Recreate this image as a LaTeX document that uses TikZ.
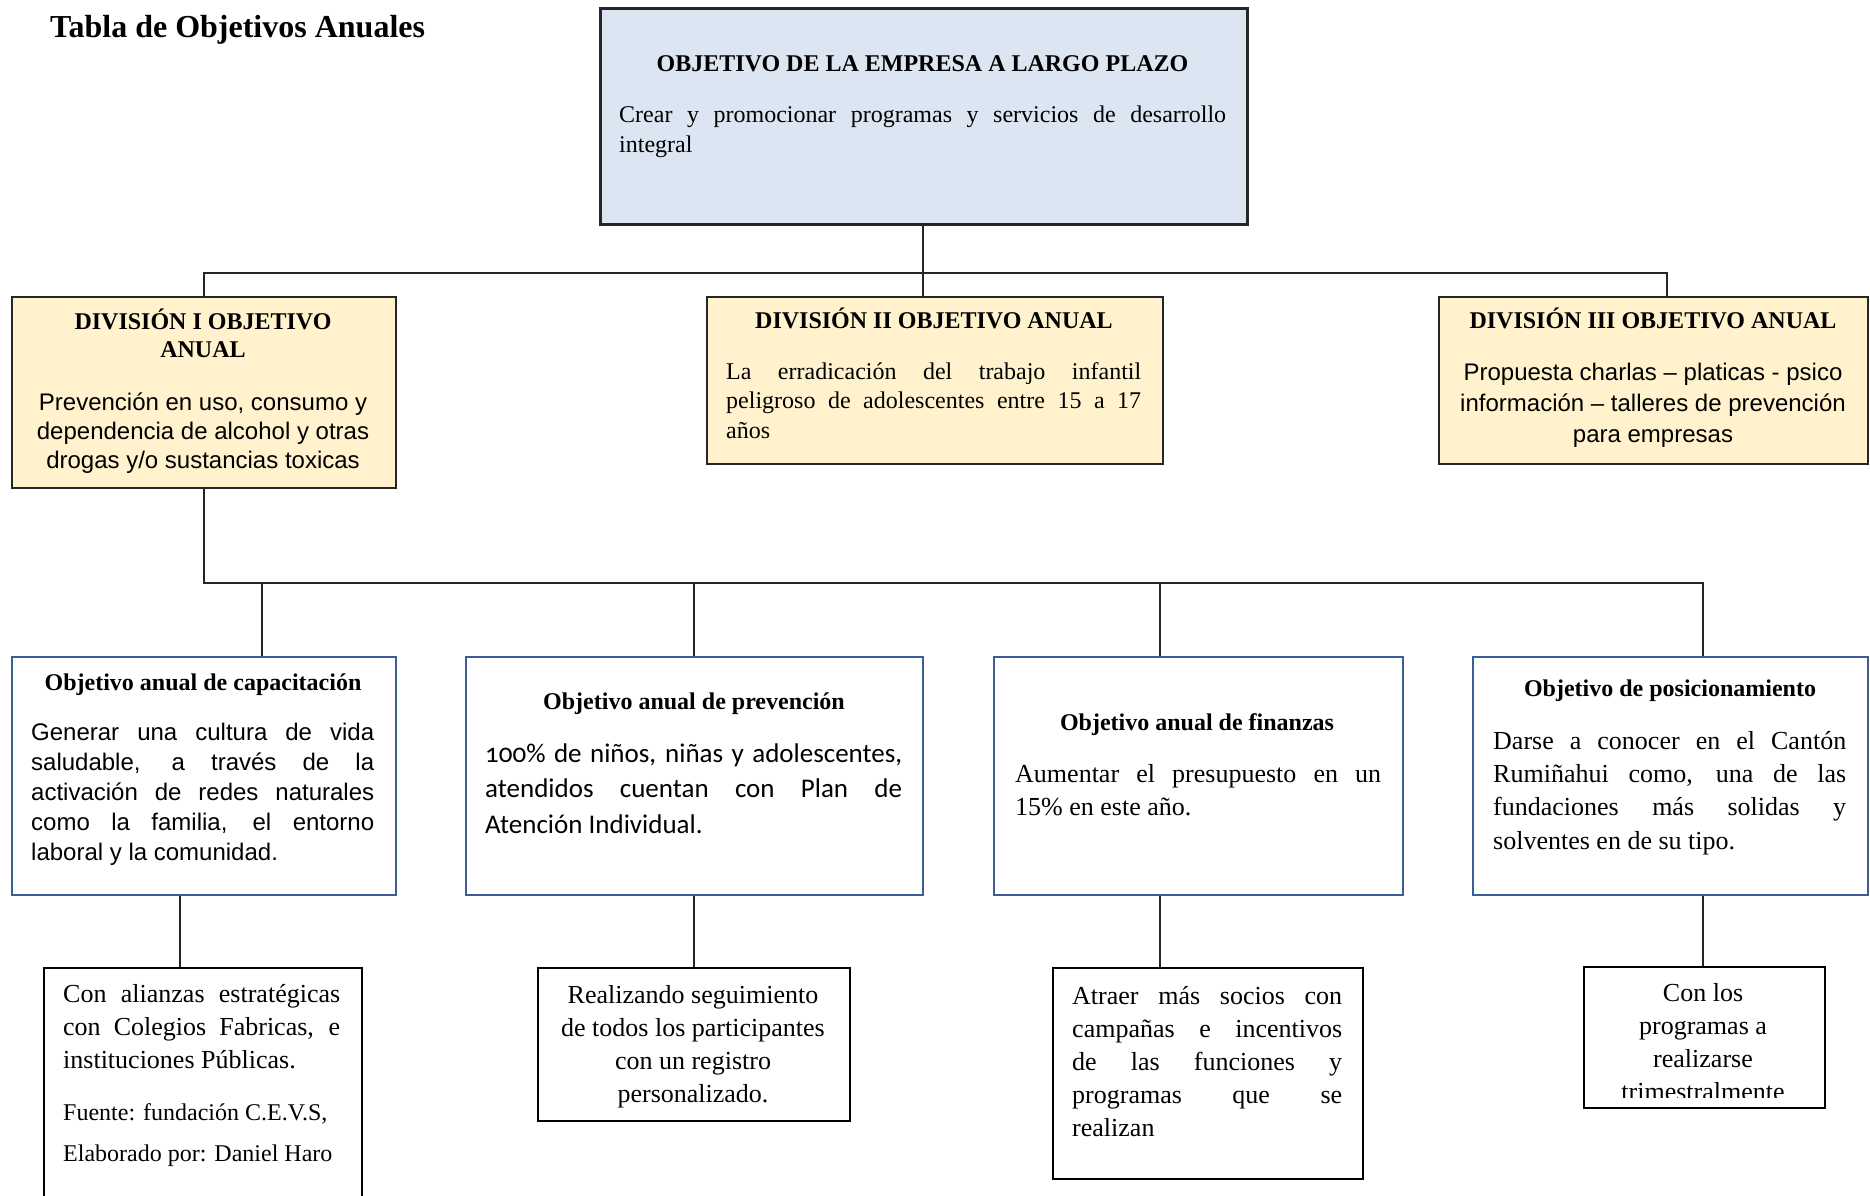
\documentclass[tikz,border=0pt]{standalone}
\usepackage{fontspec}
\setmainfont{Liberation Serif}
\newfontfamily\arialf{Liberation Sans}
\newfontfamily\calibf[Numbers=OldStyle]{Carlito}
\definecolor{topblue}{RGB}{220,230,242}
\definecolor{divyellow}{RGB}{255,242,204}
\definecolor{objblue}{RGB}{58,94,150}
\newcommand\jline[2]{\makebox[#1][s]{#2}}
\tikzset{
  topbox/.style={draw=black!85, line width=2.5pt, fill=topblue, inner sep=0pt, anchor=north west},
  divbox/.style={draw=black!85, line width=2pt, fill=divyellow, inner sep=0pt, anchor=north west},
  objbox/.style={draw=objblue, line width=2pt, fill=white, inner sep=0pt, anchor=north west},
  actbox/.style={draw=black, line width=2pt, fill=white, inner sep=0pt, anchor=north west},
  conn/.style={draw=black!85, line width=1.3pt},
  txt/.style={inner sep=0pt, anchor=base west, align=left},
  ctxt/.style={inner sep=0pt, anchor=base, align=center},
  hd/.style={font=\bfseries\fontsize{24}{28}\selectfont},
}
\begin{document}
\begin{tikzpicture}[x=1pt,y=-1pt]
\fill[white] (0,0) rectangle (1870,1195);
\useasboundingbox (0,0) rectangle (1870,1195);

% boxes
\node[topbox, minimum width=647pt, minimum height=216pt] (top) at (599,7) {};
\node[divbox, minimum width=384pt, minimum height=191pt] (d1) at (11,296) {};
\node[divbox, minimum width=456pt, minimum height=167pt] (d2) at (706,296) {};
\node[divbox, minimum width=429pt, minimum height=167pt] (d3) at (1438,296) {};
\node[objbox, minimum width=384pt, minimum height=238pt] (oa) at (11,656) {};
\node[objbox, minimum width=457pt, minimum height=238pt] (ob) at (465,656) {};
\node[objbox, minimum width=409pt, minimum height=238pt] (oc) at (993,656) {};
\node[objbox, minimum width=395pt, minimum height=238pt] (od) at (1472,656) {};
\node[actbox, minimum width=318pt, minimum height=260pt] (aa) at (43,967) {};
\node[actbox, minimum width=312pt, minimum height=153pt] (ab) at (537,967) {};
\node[actbox, minimum width=310pt, minimum height=211pt] (ac) at (1052,967) {};
\node[actbox, minimum width=241pt, minimum height=141pt] (ad) at (1583,966) {};

% connectors
\coordinate (tc) at (923,250);
\coordinate (b1l) at (203,273);
\coordinate (b1r) at (1667,273);
\draw[conn] (top.south -| tc) -- (d2.north -| tc);
\draw[conn] (d1.north) -- (d1.north |- b1l) -- (b1r) -- (b1r |- d3.north);
\coordinate (b2l) at (203,583);
\coordinate (b2r) at (1703,583);
\coordinate (xa) at (262,583);
\coordinate (xb) at (694,583);
\coordinate (xc) at (1160,583);
\draw[conn] (d1.south) -- (d1.south |- b2l) -- (b2r) -- (b2r |- od.north);
\draw[conn] (xa) -- (xa |- oa.north);
\draw[conn] (xb) -- (xb |- ob.north);
\draw[conn] (xc) -- (xc |- oc.north);
\coordinate (ya) at (180,900);
\coordinate (yb) at (694,900);
\coordinate (yc) at (1160,900);
\coordinate (yd) at (1703,900);
\draw[conn] (oa.south -| ya) -- (aa.north -| ya);
\draw[conn] (ob.south -| yb) -- (ab.north -| yb);
\draw[conn] (oc.south -| yc) -- (ac.north -| yc);
\draw[conn] (od.south -| yd) -- (ad.north -| yd);

% title
\node[txt, font=\bfseries\fontsize{32}{38}\selectfont] (title) at (50,37) {Tabla de Objetivos Anuales};

% top box
\node[ctxt, hd] (toph) at (922.5,71) {OBJETIVO DE LA EMPRESA A LARGO PLAZO};
\node[txt, font=\fontsize{24}{30}\selectfont] (topt) at (619,152)
  {\jline{607pt}{Crear y promocionar programas y servicios de desarrollo}\\integral};

% divisions
\node[ctxt, hd] (d1h) at (203,357) {DIVISIÓN I OBJETIVO\\ANUAL};
\node[ctxt, font=\arialf\fontsize{24}{29}\selectfont] (d1t) at (203,468)
  {Prevención en uso, consumo y\\dependencia de alcohol y otras\\drogas y/o sustancias toxicas};
\node[ctxt, hd] (d2h) at (934,328) {DIVISIÓN II OBJETIVO ANUAL};
\node[txt, font=\fontsize{24}{29.5}\selectfont] (d2t) at (726,438)
  {\jline{415pt}{La erradicación del trabajo infantil}\\\jline{415pt}{peligroso de adolescentes entre 15 a 17}\\años};
\node[ctxt, hd] (d3h) at (1653,328) {DIVISIÓN III OBJETIVO ANUAL};
\node[ctxt, font=\arialf\fontsize{24}{31}\selectfont] (d3t) at (1653,442)
  {Propuesta charlas – platicas - psico\\información – talleres de prevención\\para empresas};

% objectives
\node[ctxt, hd] (oah) at (203,690) {Objetivo anual de capacitación};
\node[txt, font=\arialf\fontsize{24}{30}\selectfont] (oat) at (31,860)
  {\jline{343pt}{Generar una cultura de vida}\\\jline{343pt}{saludable, a través de la}\\\jline{343pt}{activación de redes naturales}\\\jline{343pt}{como la familia, el entorno}\\laboral y la comunidad.};
\node[ctxt, hd] (obh) at (694,709) {Objetivo anual de prevención};
\node[txt, font=\calibf\fontsize{27}{35.5}\selectfont] (obt) at (485,833)
  {\jline{417pt}{100\% de niños, niñas y adolescentes,}\\\jline{417pt}{atendidos cuentan con Plan de}\\Atención Individual.};
\node[ctxt, hd] (och) at (1197,730) {Objetivo anual de finanzas};
\node[txt, font=\fontsize{26}{33}\selectfont] (oct) at (1015,815)
  {\jline{366pt}{Aumentar el presupuesto en un}\\15\% en este año.};
\node[ctxt, hd] (odh) at (1670,696) {Objetivo de posicionamiento};
\node[txt, font=\fontsize{26}{33.3}\selectfont] (odt) at (1493,849)
  {\jline{353pt}{Darse a conocer en el Cantón}\\\jline{353pt}{Rumiñahui como, una de las}\\\jline{353pt}{fundaciones más solidas y}\\solventes en de su tipo.};

% actions
\node[txt, font=\fontsize{26}{33}\selectfont] (aat) at (63,1068)
  {\jline{277pt}{Con alianzas estratégicas}\\\jline{277pt}{con Colegios Fabricas, e}\\instituciones Públicas.};
\node[txt, font=\fontsize{24}{29}\selectfont] (src) at (63,1120) {Fuente: fundación C.E.V.S,};
\node[txt, font=\fontsize{24}{29}\selectfont] (auth) at (63,1161) {Elaborado por: Daniel Haro};
\node[ctxt, font=\fontsize{26}{33}\selectfont] (abt) at (693,1102)
  {Realizando seguimiento\\de todos los participantes\\con un registro\\personalizado.};
\node[txt, font=\fontsize{26}{33}\selectfont] (act) at (1072,1136)
  {\jline{270pt}{Atraer más socios con}\\\jline{270pt}{campañas e incentivos}\\\jline{270pt}{de las funciones y}\\\jline{270pt}{programas que se}\\realizan};
\begin{scope}
\clip (1585,968) rectangle (1822,1097);
\node[ctxt, font=\fontsize{26}{33}\selectfont] (adt) at (1703,1100)
  {Con los\\programas a\\realizarse\\trimestralmente};
\end{scope}
\end{tikzpicture}
\end{document}
